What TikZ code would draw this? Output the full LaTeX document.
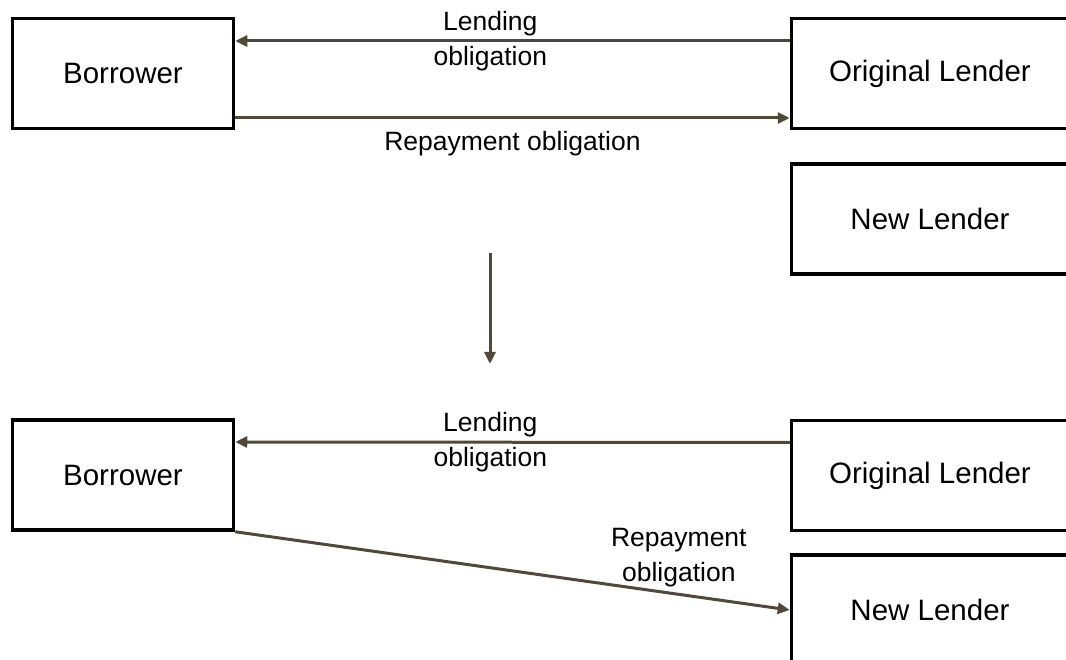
\documentclass[tikz,border=0pt]{standalone}
\usepackage{fontspec}
\setmainfont{Liberation Sans}
\usetikzlibrary{arrows.meta}
\definecolor{arrowbrown}{RGB}{82,72,56}

\begin{document}
\begin{tikzpicture}[x=1pt,y=-1pt,
	box/.style={draw,line width=3.5pt,minimum width=221pt,minimum height=110pt,inner sep=0pt,font=\fontsize{29.5}{35}\selectfont},
	lender/.style={box,minimum width=277pt},
	flow/.style={draw=arrowbrown,line width=3pt,-{Triangle[length=12pt,width=11pt]}},
	lbl/.style={align=center,inner sep=0pt,font=\fontsize{26.5}{35}\selectfont}]
	\useasboundingbox (0,0) rectangle (1066,660);
	\clip (0,0) rectangle (1066,660);
	% before the transfer
	\node[box] (b1) at (123,73.5) {Borrower};
	\node[lender] (ol1) at (930,73.5) {Original Lender};
	\node[lender] (nl1) at (930,219) {New Lender};
	\draw[flow] ([yshift=32.5pt]ol1.west) -- node[lbl,pos=0.54]{Lending\\obligation} ([yshift=32.5pt]b1.east);
	\draw[flow] ([yshift=-44.5pt]b1.east) -- node[lbl,below=12pt]{Repayment obligation} ([yshift=-44.5pt]ol1.west);
	% transfer
	\coordinate (t1) at (490,253);
	\coordinate (t2) at (490,364);
	\draw[flow] (t1) -- (t2);
	% after the transfer
	\node[box] (b2) at (123,475) {Borrower};
	\node[lender] (ol2) at (930,475.5) {Original Lender};
	\node[lender] (nl2) at (930,610) {New Lender};
	\draw[flow] ([yshift=33pt]ol2.west) -- node[lbl,pos=0.54]{Lending\\obligation} ([yshift=33pt]b2.east);
	\draw[flow] (b2.south east) -- node[lbl,pos=0.8,above=6pt]{Repayment\\obligation} (nl2.west);
\end{tikzpicture}
\end{document}
